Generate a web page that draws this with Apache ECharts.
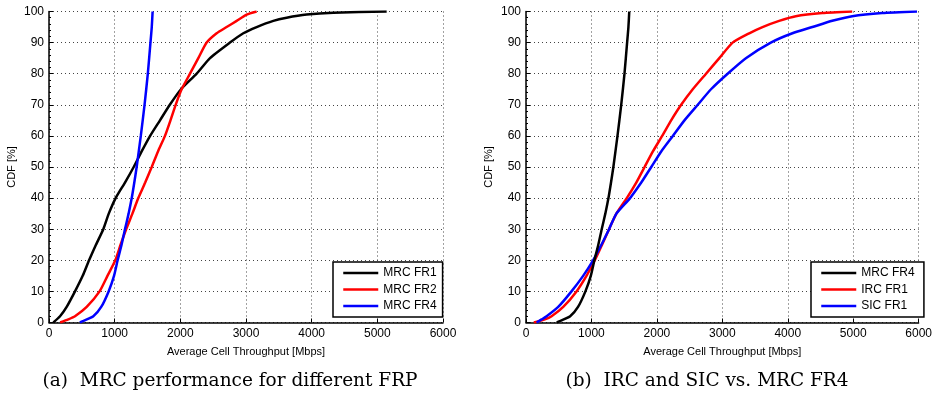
<!DOCTYPE html>
<html>
<head>
<meta charset="utf-8">
<script src="https://cdn.jsdelivr.net/npm/echarts@6/dist/echarts.min.js"></script>
<style>
  html, body { margin: 0; padding: 0; background: #fff; }
  #chart { width: 935px; height: 398px; }
</style>
</head>
<body>
<div id="chart"></div>
<script>
// CDF levels [%] and throughput [Mbps]
const mrcFR1 = [[66,0],[168,2],[269,5],[396,10],[513,15],[610,20],[715,25],[827,30],[910,35],[1015,40],
  [1157,45],[1290,50],[1411,55],[1540,60],[1690,65],[1840,70],[2010,75],[2249,80],[2452,85],[2756,90],
  [2959,93],[3162,95],[3416,97],[3619,98],[3924,99],[4330,99.6],[5142,100]];
const mrcFR2 = [[170,0],[294,1],[396,2],[574,5],[770,10],[890,15],[1010,20],[1090,25],[1175,30],[1270,35],
  [1360,40],[1465,45],[1564,50],[1660,55],[1766,60],[1850,65],[1929,70],[2020,75],[2147,80],[2274,85],
  [2401,90],[2553,93],[2705,95],[2858,97],[3010,99],[3162,100]];
const mrcFR4 = [[470,0],[523,0.5],[675,2],[795,5],[908,10],[990,15],[1045,20],[1105,25],[1157,30],[1212,35],
  [1260,40],[1299,45],[1335,50],[1398,60],[1455,70],[1505,80],[1545,90],[1565,95],[1578,100]];
const ircFR1 = [[120,0],[289,1],[391,2],[569,5],[772,10],[924,15],[1051,20],[1162,25],[1269,30],[1381,35],
  [1540,40],[1685,45],[1812,50],[1939,55],[2081,60],[2218,65],[2371,70],[2548,75],[2751,80],[2954,85],
  [3157,90],[3411,93],[3614,95],[3868,97],[4122,98.5],[4528,99.5],[4985,100]];
const sicFR1 = [[162,0],[239,1],[315,2],[492,5],[695,10],[873,15],[1025,20],[1152,25],[1269,30],[1381,35],
  [1590,40],[1761,45],[1914,50],[2066,55],[2244,60],[2421,65],[2624,70],[2827,75],[3081,80],[3360,85],
  [3741,90],[4071,93],[4376,95],[4680,97],[4985,98.5],[5442,99.5],[5975,100]];

const xTicks = { min: 0, max: 6000, interval: 1000 };
const yTicks = { min: 0, max: 100, interval: 10 };

const tickFont = { fontFamily: 'Liberation Sans', fontSize: 12, color: '#000', formatter: v => String(v) };

function xAxis(idx) {
  return {
    type: 'value', gridIndex: idx, min: xTicks.min, max: xTicks.max, interval: xTicks.interval,
    name: 'Average Cell Throughput [Mbps]', nameLocation: 'middle', nameGap: 24,
    nameTextStyle: { fontFamily: 'Liberation Sans', fontSize: 11, color: '#000' },
    axisLine: { lineStyle: { color: '#000', width: 1.5 } },
    axisTick: { inside: true, length: 4, lineStyle: { color: '#000' } },
    axisLabel: Object.assign({ margin: 5 }, tickFont),
    splitLine: { show: true, lineStyle: { color: '#444', type: [1, 3], width: 1 } }
  };
}
function yAxis(idx) {
  return {
    type: 'value', gridIndex: idx, min: yTicks.min, max: yTicks.max, interval: yTicks.interval,
    name: 'CDF [%]', nameLocation: 'middle', nameGap: 32,
    nameTextStyle: { fontFamily: 'Liberation Sans', fontSize: 11, color: '#000' },
    axisLine: { show: true, lineStyle: { color: '#000', width: 1.5 } },
    axisTick: { show: true, inside: true, length: 4, lineStyle: { color: '#000' } },
    minorTick: { show: true, splitNumber: 5, length: 2, lineStyle: { color: '#000' } },
    axisLabel: Object.assign({ margin: 5 }, tickFont),
    splitLine: { show: true, lineStyle: { color: '#444', type: [1, 3], width: 1 } }
  };
}
function line(name, data, color, idx) {
  return {
    type: 'line', name: name, data: data, xAxisIndex: idx, yAxisIndex: idx,
    symbol: 'none', smooth: 0.2, lineStyle: { color: color, width: 2.5 }, itemStyle: { color: color },
    animation: false
  };
}
function legend(left, names) {
  return {
    left: left, top: 262, orient: 'vertical', data: names,
    itemWidth: 35, itemHeight: 12, itemGap: 4.5, padding: [5, 6, 5, 9],
    backgroundColor: '#fff', borderColor: '#000', borderWidth: 1.5, borderRadius: 0,
    itemStyle: { opacity: 0 },
    lineStyle: { width: 2.5 },
    textStyle: { fontFamily: 'Liberation Sans', fontSize: 12, color: '#000' },
    selectedMode: false
  };
}

const chart = echarts.init(document.getElementById('chart'));
chart.setOption({
  backgroundColor: '#fff',
  animation: false,
  title: [
    { text: '(a)  MRC performance for different FRP', left: 225, top: 367, textAlign: 'center',
      textStyle: { fontFamily: 'DejaVu Serif', fontSize: 18.5, fontWeight: 'normal', color: '#000' } },
    { text: '(b)  IRC and SIC vs. MRC FR4', left: 702, top: 367, textAlign: 'center',
      textStyle: { fontFamily: 'DejaVu Serif', fontSize: 18.5, fontWeight: 'normal', color: '#000' } }
  ],
  grid: [
    { left: 49, top: 11.5, width: 394, height: 311 },
    { left: 526, top: 11.5, width: 394, height: 311 }
  ],
  xAxis: [xAxis(0), xAxis(1)],
  yAxis: [yAxis(0), yAxis(1)],
  legend: [
    legend(333, ['MRC FR1', 'MRC FR2', 'MRC FR4']),
    legend(811, ['MRC FR4 ', 'IRC FR1', 'SIC FR1'])
  ],
  series: [
    line('MRC FR1', mrcFR1, '#000', 0),
    line('MRC FR2', mrcFR2, '#ff0000', 0),
    line('MRC FR4', mrcFR4, '#0000ff', 0),
    line('IRC FR1', ircFR1, '#ff0000', 1),
    line('SIC FR1', sicFR1, '#0000ff', 1),
    line('MRC FR4 ', mrcFR4, '#000', 1)
  ]
});
</script>
</body>
</html>
